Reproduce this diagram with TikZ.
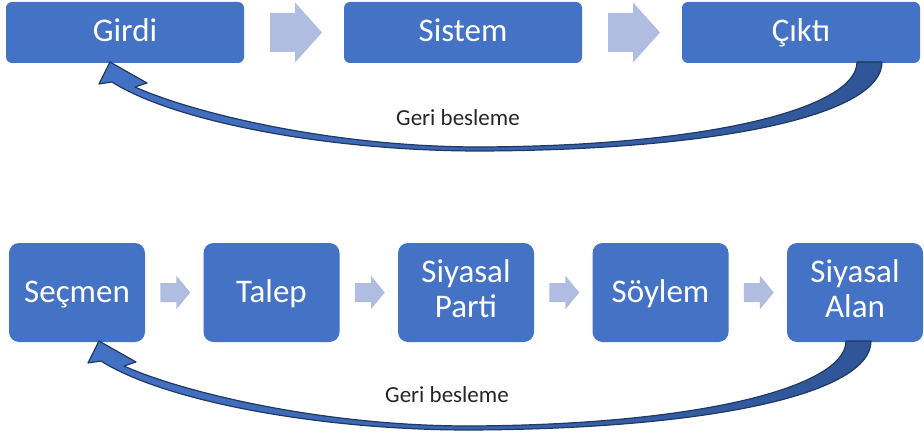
\documentclass[tikz,border=0pt]{standalone}
\usepackage{fontspec}
\setmainfont{Carlito}
\usetikzlibrary{calc}
\definecolor{boxblue}{HTML}{4472C4}
\definecolor{chevcol}{HTML}{B1BDE0}
\definecolor{arrL}{HTML}{4472C4}
\definecolor{arrR}{HTML}{2F5597}
\definecolor{arrline}{HTML}{1F3864}
\definecolor{lbl}{HTML}{262626}
\begin{document}
\begin{tikzpicture}[x=1pt,y=-1pt,
  topbox/.style={rectangle, rounded corners=6pt, fill=boxblue, minimum width=238pt, minimum height=61pt, inner sep=0pt, text=white, font=\fontsize{33}{35}\selectfont, text height=19pt, text depth=0pt},
  botbox/.style={rectangle, rounded corners=10pt, fill=boxblue, minimum width=136pt, minimum height=99pt, inner sep=0pt, text=white, align=center, font=\fontsize{33}{35}\selectfont},
  oneline/.style={text height=19pt, text depth=0pt},
  twoline/.style={text depth=7pt},
  fblabel/.style={text=lbl, font=\fontsize{23}{27}\selectfont, inner sep=0pt},
  fbarrow/.style={left color=arrL, right color=arrR, draw=arrline, line width=1.2pt, line join=round},
  bigchev/.pic={\fill[chevcol] (-24,-19.5) -- (1,-19.5) -- (1,-30) -- (28,0) -- (1,30) -- (1,19.5) -- (-24,19.5) -- cycle;},
  smallchev/.pic={\fill[chevcol] (-14,-9.5) -- (2,-9.5) -- (2,-17) -- (16,0) -- (2,17) -- (2,9.5) -- (-14,9.5) -- cycle;}
]
\useasboundingbox (0,0) rectangle (924,433);

% top row
\node[topbox] (girdi) at (125,32.5) {Girdi};
\node[topbox] (sistem) at (463,32.5) {Sistem};
\node[topbox] (cikti) at (801,32.5) {Çıktı};
\pic at ($(girdi.east)!0.5!(sistem.west)$) {bigchev};
\pic at ($(sistem.east)!0.5!(cikti.west)$) {bigchev};

% bottom row
\node[botbox, oneline] (secmen) at (77,292.5) {Seçmen};
\node[botbox, oneline] (talep) at (271.5,292.5) {Talep};
\node[botbox, twoline] (parti) at (466,292.5) {Siyasal\\Parti};
\node[botbox, oneline] (soylem) at (660.5,292.5) {Söylem};
\node[botbox, twoline] (alan) at (855,292.5) {Siyasal\\Alan};
\pic at ($(secmen.east)!0.5!(talep.west)$) {smallchev};
\pic at ($(talep.east)!0.5!(parti.west)$) {smallchev};
\pic at ($(parti.east)!0.5!(soylem.west)$) {smallchev};
\pic at ($(soylem.east)!0.5!(alan.west)$) {smallchev};

% feedback arrows
\draw[fbarrow] (882,62) .. controls (882,115) and (720,150) .. (480,151)
  .. controls (330,151) and (175,122) .. (112,82)
  -- (99,84) -- (110,62) -- (147,83) -- (135,87)
  .. controls (190,112) and (330,147) .. (480,147)
  .. controls (710,146) and (857,108) .. (857,62) -- cycle;
\begin{scope}[shift={(-11,279)}]
\draw[fbarrow] (882,62) .. controls (882,115) and (720,150) .. (480,151)
  .. controls (330,151) and (175,122) .. (112,82)
  -- (99,84) -- (110,62) -- (147,83) -- (135,87)
  .. controls (190,112) and (330,147) .. (480,147)
  .. controls (710,146) and (857,108) .. (857,62) -- cycle;
\end{scope}

\node[fblabel] (fb1) at (458,118) {Geri besleme};
\node[fblabel] (fb2) at (447,395) {Geri besleme};
\end{tikzpicture}
\end{document}
